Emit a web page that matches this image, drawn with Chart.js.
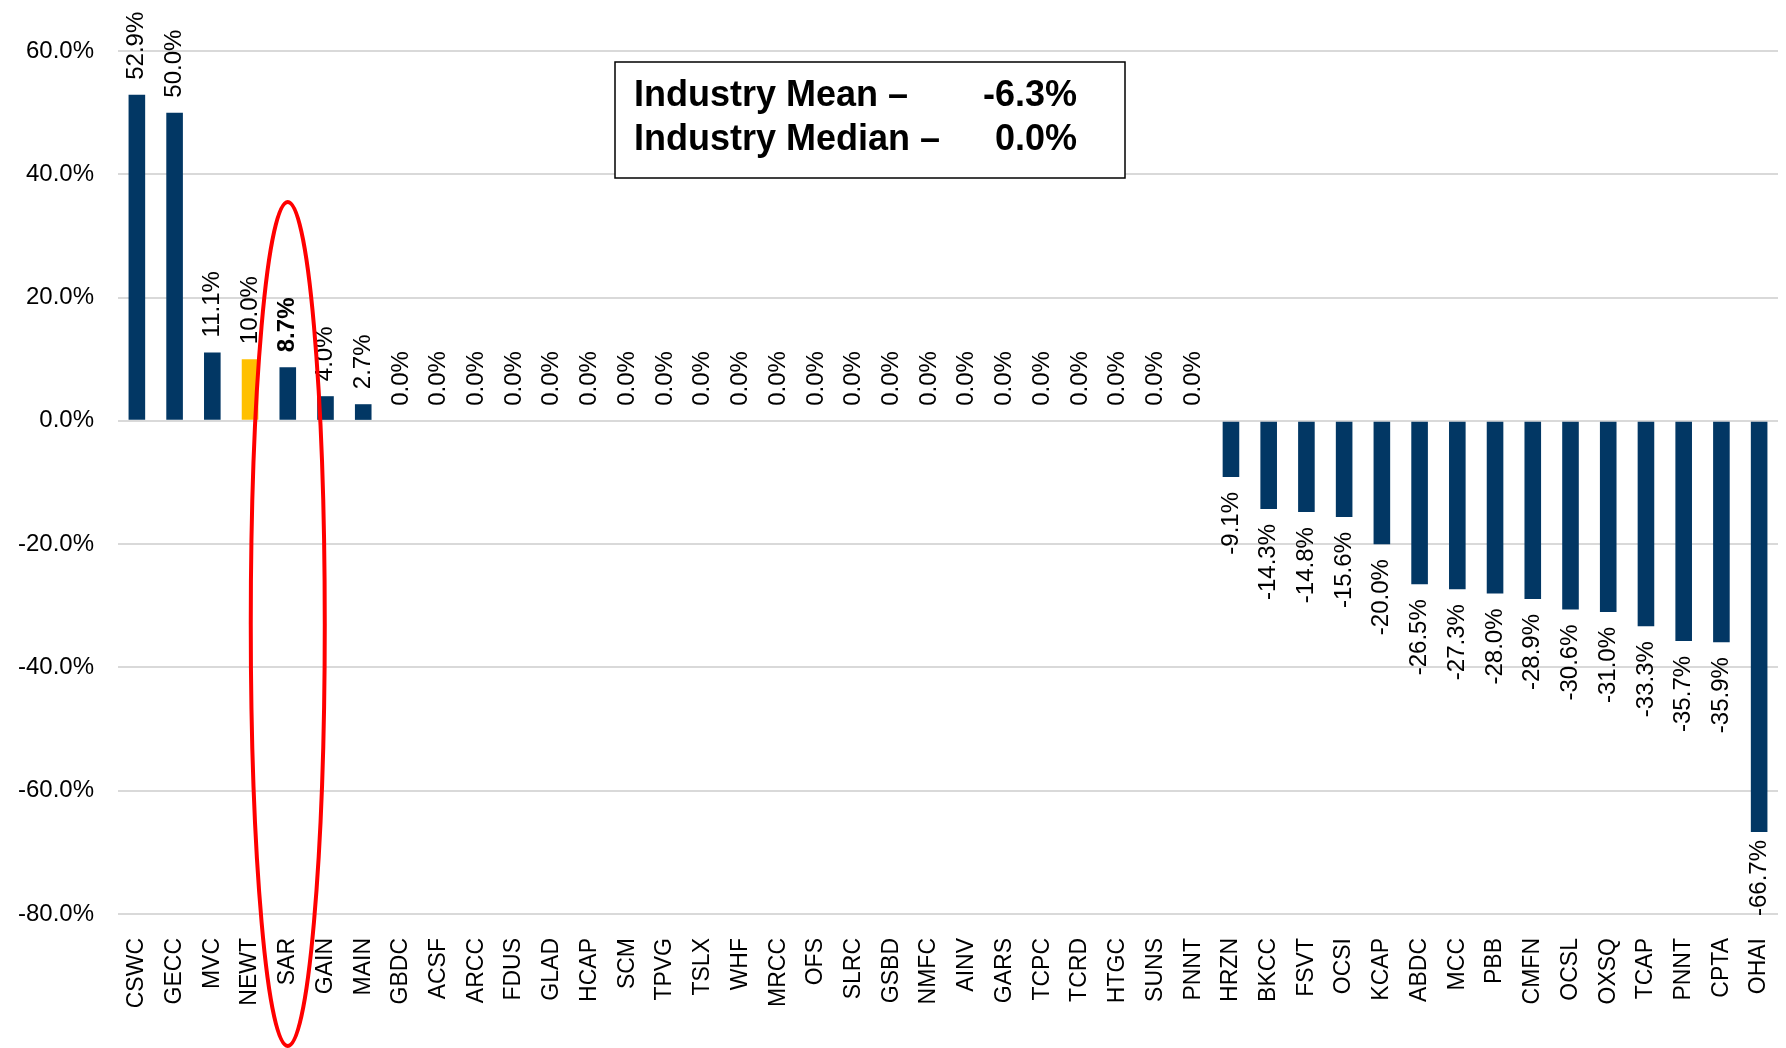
<!DOCTYPE html>
<html>
<head>
<meta charset="utf-8">
<script src="https://cdn.jsdelivr.net/npm/chart.js@4/dist/chart.umd.min.js"></script>
<style>
  body { margin: 0; background: #fff; }
  #wrap { width: 1786px; height: 1048px; }
</style>
</head>
<body>
<div id="wrap"><canvas id="growthChart" width="1786" height="1048"></canvas></div>
<script>
// ---------------------------Data------------------------------------------------
const tickers = ["CSWC", "GECC", "MVC", "NEWT", "SAR", "GAIN", "MAIN", "GBDC", "ACSF", "ARCC",
  "FDUS", "GLAD", "HCAP", "SCM", "TPVG", "TSLX", "WHF", "MRCC", "OFS", "SLRC",
  "GSBD", "NMFC", "AINV", "GARS", "TCPC", "TCRD", "HTGC", "SUNS", "PNNT", "HRZN",
  "BKCC", "FSVT", "OCSI", "KCAP", "ABDC", "MCC", "PBB", "CMFN", "OCSL", "OXSQ",
  "TCAP", "PNNT", "CPTA", "OHAI"];
const changes = [52.9, 50.0, 11.1, 10.0, 8.7, 4.0, 2.7, 0, 0, 0,
  0, 0, 0, 0, 0, 0, 0, 0, 0, 0,
  0, 0, 0, 0, 0, 0, 0, 0, 0, -9.1,
  -14.3, -14.8, -15.6, -20.0, -26.5, -27.3, -28.0, -28.9, -30.6, -31.0,
  -33.3, -35.7, -35.9, -66.7];
const yTicks = [-80, -60, -40, -20, 0, 20, 40, 60];
const focusTicker = "SAR";    // circled company
const peerTicker = "NEWT";    // yellow bar

const NAVY = "#023764";
const GOLD = "#FFC000";
const FONT = "'Liberation Sans', Arial, sans-serif";

// industry stats for the box
const mean = changes.reduce((a, b) => a + b, 0) / changes.length;
const sorted = [...changes].sort((a, b) => a - b);
const mid = Math.floor(sorted.length / 2);
const median = sorted.length % 2 ? sorted[mid] : (sorted[mid - 1] + sorted[mid]) / 2;

const barColors = tickers.map((t) => t === peerTicker ? GOLD : NAVY);

// ---------------------------Plugins------------------------------------------------
// rotated value labels at bar ends
const valueLabels = {
  id: "valueLabels",
  afterDatasetsDraw(chart) {
    const ctx = chart.ctx;
    const area = chart.chartArea;
    const meta = chart.getDatasetMeta(0);
    const gap = 15;
    ctx.save();
    ctx.fillStyle = "#000";
    ctx.textBaseline = "middle";
    meta.data.forEach((bar, i) => {
      const v = changes[i];
      const txt = v.toFixed(1) + "%";
      ctx.font = (tickers[i] === focusTicker ? "bold " : "") + "24px " + FONT;
      const w = ctx.measureText(txt).width;
      ctx.save();
      if (v >= 0) {
        ctx.translate(bar.x, bar.y - gap);
        ctx.rotate(-Math.PI / 2);
        ctx.textAlign = "left";
        ctx.fillText(txt, 0, 0);
      } else {
        let y = bar.y + gap;
        if (y + w > area.bottom) y = area.bottom - w + 2;
        ctx.translate(bar.x, y);
        ctx.rotate(-Math.PI / 2);
        ctx.textAlign = "right";
        ctx.fillText(txt, 0, 0);
      }
      ctx.restore();
    });
    ctx.restore();
  }
};

// mean / median box and the red ellipse
const callouts = {
  id: "callouts",
  afterDraw(chart) {
    const ctx = chart.ctx;
    const xs = chart.scales.x;
    const ys = chart.scales.y;
    ctx.save();

    // box
    ctx.strokeStyle = "#000";
    ctx.lineWidth = 1.5;
    ctx.fillStyle = "#fff";
    ctx.fillRect(615, 62, 510, 116);
    ctx.strokeRect(615, 62, 510, 116);
    ctx.fillStyle = "#000";
    ctx.font = "bold 36px " + FONT;
    ctx.textBaseline = "middle";
    ctx.textAlign = "left";
    ctx.fillText("Industry Mean \u2013", 634, 96);
    ctx.fillText("Industry Median \u2013", 634, 140);
    ctx.textAlign = "right";
    ctx.fillText(mean.toFixed(1) + "%", 1077, 96);
    ctx.fillText(median.toFixed(1) + "%", 1077, 140);

    // ellipse around focus company
    const cx = xs.getPixelForValue(tickers.indexOf(focusTicker));
    const top = ys.getPixelForValue(35.5);
    const bottom = chart.height - 2;
    ctx.beginPath();
    ctx.ellipse(cx, (top + bottom) / 2, 37, (bottom - top) / 2, 0, 0, Math.PI * 2);
    ctx.strokeStyle = "#FF0000";
    ctx.lineWidth = 4;
    ctx.stroke();
    ctx.restore();
  }
};

// ---------------------------Chart------------------------------------------------
const ctx = document.getElementById("growthChart").getContext("2d");
new Chart(ctx, {
  type: "bar",
  data: {
    labels: tickers,
    datasets: [
      {
        data: changes,
        backgroundColor: barColors,
        borderWidth: 0,
        barPercentage: 0.44,
        categoryPercentage: 1.0,
      },
    ],
  },
  options: {
    responsive: false,
    animation: false,
    layout: { padding: { top: 51, right: 8, left: 0, bottom: 0 } },
    plugins: {
      legend: { display: false },
      tooltip: { enabled: false },
    },
    scales: {
      x: {
        grid: { display: false },
        border: { display: false },
        ticks: {
          autoSkip: false,
          maxRotation: 90,
          minRotation: 90,
          padding: 16,
          color: "#000",
          font: { family: FONT, size: 23 },
        },
        afterFit(scale) {
          scale.height = 134;
          scale.paddingLeft = 0;
          scale.paddingRight = 0;
        },
      },
      y: {
        min: -80,
        max: 60,
        afterBuildTicks(scale) { scale.ticks = yTicks.map(v => ({ value: v })); },
        grid: { color: "#d9d9d9", lineWidth: 2, drawTicks: false },
        border: { display: false },
        ticks: {
          padding: 24,
          color: "#000",
          font: { family: FONT, size: 24 },
          callback: (v) => v.toFixed(1) + "%",
        },
        afterFit(scale) { scale.width = 118; },
      },
    },
  },
  plugins: [valueLabels, callouts],
});
</script>
</body>
</html>
